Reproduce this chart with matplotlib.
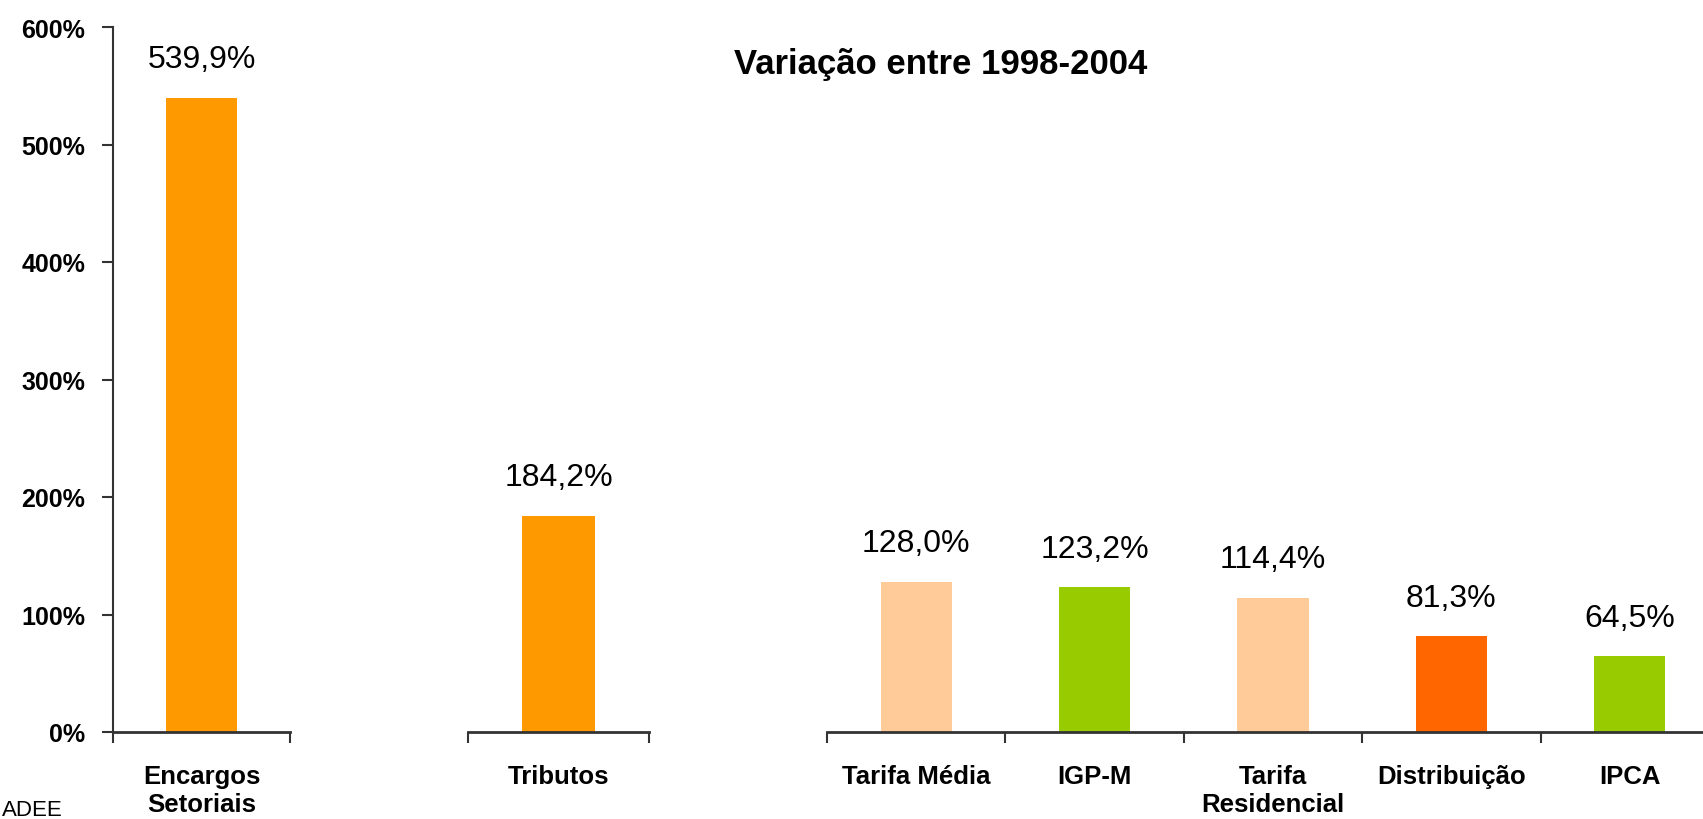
import matplotlib
matplotlib.use("Agg")
import matplotlib.pyplot as plt

plt.rcParams['font.family'] = ['Liberation Sans', 'DejaVu Sans']

# Dados / Data (variação 1998-2004, %)
grupo1_cat = ['Encargos\nSetoriais']
grupo1_val = [539.9]
grupo1_cor = ['#FF9900']

grupo2_cat = ['Tributos']
grupo2_val = [184.2]
grupo2_cor = ['#FF9900']

grupo3_cat = ['Tarifa Média', 'IGP-M', 'Tarifa\nResidencial', 'Distribuição', 'IPCA']
grupo3_val = [128.0, 123.2, 114.4, 81.3, 64.5]
grupo3_cor = ['#FFCC99', '#99CC00', '#FFCC99', '#FF6600', '#99CC00']

y_ticks = [0, 100, 200, 300, 400, 500, 600]

W, H = 1703, 820
fig = plt.figure(figsize=(W / 100, H / 100), dpi=100)

bottom = 1 - 733 / H
height = (733 - 28) / H


def make_axes(left_px, width_px):
    return fig.add_axes([left_px / W, bottom, width_px / W, height])


def draw_group(ax, cats, vals, cores, show_y=False):
    n = len(cats)
    xs = [i + 0.5 for i in range(n)]
    ax.bar(xs, vals, width=0.4, color=cores, zorder=2)
    ax.set_xlim(0, n)
    ax.set_ylim(0, 600)
    for x, v in zip(xs, vals):
        ax.annotate(f'{v:.1f}%'.replace('.', ','), xy=(x, v), xytext=(0, 17),
                    textcoords='offset points', ha='center', va='bottom',
                    fontsize=23)
    # rótulos no centro, marcas nos limites
    ax.set_xticks(xs)
    ax.set_xticklabels(cats, fontsize=18.5, fontweight='bold', linespacing=1.2)
    ax.tick_params(axis='x', which='major', length=0, pad=23)
    ax.set_xticks(list(range(n + 1)), minor=True)
    ax.tick_params(axis='x', which='minor', length=8, width=1.5, color='#333333')
    for s in ['top', 'right']:
        ax.spines[s].set_visible(False)
    ax.spines['bottom'].set_linewidth(2)
    ax.spines['bottom'].set_color('#333333')
    if show_y:
        ax.set_yticks(y_ticks)
        ax.set_yticklabels([f'{t}%' for t in y_ticks], fontsize=18, fontweight='bold')
        ax.tick_params(axis='y', length=8, width=1.5, color='#333333', pad=12)
        ax.spines['left'].set_linewidth(1.5)
        ax.spines['left'].set_color('#333333')
    else:
        ax.spines['left'].set_visible(False)
        ax.set_yticks([])
    ax.patch.set_alpha(0)


ax1 = make_axes(113, 177)
draw_group(ax1, grupo1_cat, grupo1_val, grupo1_cor, show_y=True)

ax2 = make_axes(468, 181)
draw_group(ax2, grupo2_cat, grupo2_val, grupo2_cor)

ax3 = make_axes(827, 5 * 178.4)
draw_group(ax3, grupo3_cat, grupo3_val, grupo3_cor)

fig.text(941 / W, 1 - 74 / H, 'Variação entre 1998-2004', ha='center',
         va='baseline', fontsize=25, fontweight='bold')
fig.text(2 / W, 1 - 816 / H, 'ADEE', ha='left', va='baseline', fontsize=16)

fig.savefig('out.png', dpi=100)
